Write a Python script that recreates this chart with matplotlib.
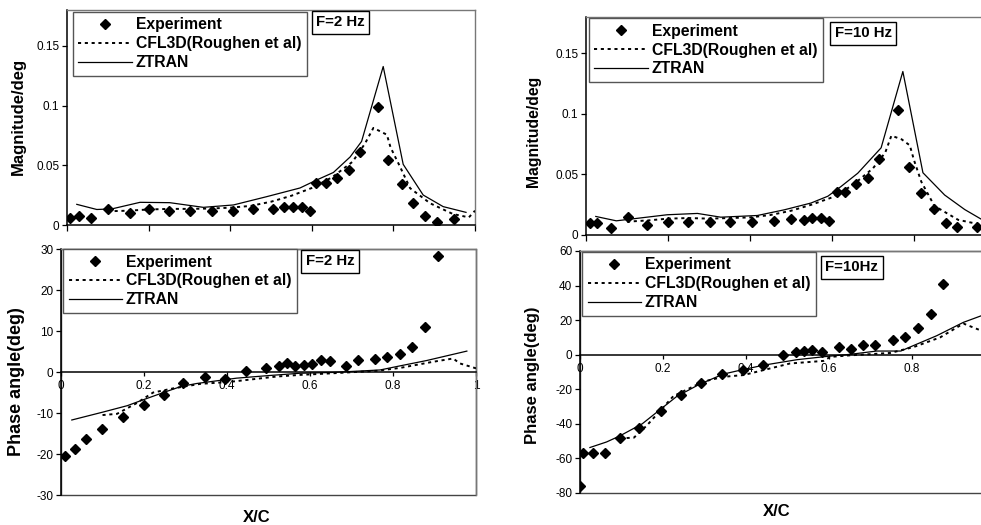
import numpy as np
import matplotlib
matplotlib.use('Agg')
import matplotlib.pyplot as plt
from matplotlib.patches import Rectangle

plt.rcParams['font.family'] = ['Liberation Sans', 'DejaVu Sans']

# ---- magnitude, F = 2 Hz ----
mag2_exp_x = [0.008, 0.029, 0.059, 0.10, 0.154, 0.20, 0.251, 0.301, 0.355, 0.406, 0.455, 0.506, 0.533, 0.555,
              0.575, 0.596, 0.61, 0.634, 0.661, 0.692, 0.718, 0.763, 0.786, 0.82, 0.849, 0.877, 0.908, 0.949]
mag2_exp_y = [0.0056, 0.0078, 0.0056, 0.013, 0.0103, 0.013, 0.0117, 0.012, 0.012, 0.012, 0.013, 0.013, 0.0148, 0.0148,
              0.0148, 0.012, 0.035, 0.035, 0.039, 0.046, 0.0615, 0.099, 0.0545, 0.034, 0.0187, 0.0075, 0.0028, 0.0047]
mag2_cfl_x = [0.10, 0.15, 0.2, 0.25, 0.3, 0.35, 0.4, 0.45, 0.5, 0.55, 0.6, 0.65, 0.7, 0.73, 0.751, 0.784, 0.793,
              0.816, 0.841, 0.89, 0.946, 0.985, 1.0]
mag2_cfl_y = [0.0115, 0.012, 0.013, 0.0135, 0.0135, 0.0138, 0.0145, 0.016, 0.0195, 0.0245, 0.031, 0.040, 0.053,
              0.068, 0.0813, 0.0756, 0.065, 0.049, 0.0308, 0.0182, 0.0092, 0.0064, 0.012]
mag2_zt_x = [0.024, 0.073, 0.11, 0.179, 0.252, 0.334, 0.408, 0.489, 0.571, 0.612, 0.653, 0.694, 0.722, 0.775,
             0.824, 0.873, 0.922, 0.978]
mag2_zt_y = [0.0173, 0.013, 0.0135, 0.019, 0.0187, 0.0148, 0.0168, 0.0237, 0.031, 0.0377, 0.044, 0.057, 0.070,
             0.1327, 0.0508, 0.0251, 0.0154, 0.0106]

# ---- phase, F = 2 Hz ----
ph2_exp_x = [0.0096, 0.034, 0.061, 0.099, 0.150, 0.2, 0.249, 0.295, 0.347, 0.396, 0.445, 0.494, 0.526, 0.545,
             0.565, 0.586, 0.606, 0.627, 0.648, 0.687, 0.716, 0.756, 0.786, 0.817, 0.847, 0.878, 0.909]
ph2_exp_y = [-20.5, -18.7, -16.4, -14.0, -10.9, -8.0, -5.6, -2.8, -1.1, -1.7, 0.2, 1.1, 1.5, 2.1,
             1.5, 1.8, 2.0, 2.9, 2.6, 1.5, 2.9, 3.2, 3.7, 4.4, 6.1, 11.1, 28.3]
ph2_cfl_x = [0.10, 0.135, 0.182, 0.222, 0.27, 0.335, 0.407, 0.52, 0.576, 0.656, 0.761, 0.817, 0.897, 0.945,
             0.961, 1.0]
ph2_cfl_y = [-10.5, -10.2, -7.6, -5.0, -4.0, -2.9, -2.4, -1.1, -0.7, -0.3, 0.3, 1.0, 2.5, 3.3, 2.1, 0.9]
ph2_zt_x = [0.026, 0.1, 0.16, 0.2, 0.247, 0.29, 0.327, 0.423, 0.496, 0.576, 0.656, 0.769, 0.817, 0.881, 0.978]
ph2_zt_y = [-11.7, -9.8, -8.2, -6.7, -5.0, -3.5, -2.8, -1.5, -0.9, -0.3, -0.1, 0.5, 1.5, 2.8, 5.1]

# ---- magnitude, F = 10 Hz ----
mag10_exp_x = [0.009, 0.027, 0.061, 0.102, 0.148, 0.2, 0.25, 0.302, 0.352, 0.404, 0.458, 0.5, 0.533, 0.551,
               0.573, 0.592, 0.612, 0.633, 0.659, 0.689, 0.716, 0.761, 0.788, 0.818, 0.848, 0.878, 0.905, 0.953]
mag10_exp_y = [0.0097, 0.0097, 0.0061, 0.0147, 0.0083, 0.0106, 0.0106, 0.0106, 0.0106, 0.0106, 0.0117, 0.0133,
               0.0122, 0.0142, 0.0142, 0.0114, 0.0356, 0.0356, 0.042, 0.047, 0.0625, 0.1036, 0.0564, 0.0347,
               0.0217, 0.0103, 0.0069, 0.0064]
mag10_cfl_x = [0.10, 0.15, 0.2, 0.25, 0.3, 0.35, 0.4, 0.45, 0.5, 0.55, 0.6, 0.65, 0.7, 0.73, 0.745, 0.77, 0.79,
               0.80, 0.818, 0.85, 0.908, 0.967, 1.0]
mag10_cfl_y = [0.011, 0.012, 0.0135, 0.014, 0.0135, 0.014, 0.0145, 0.0165, 0.020, 0.025, 0.031, 0.041, 0.055,
               0.068, 0.082, 0.079, 0.074, 0.062, 0.044, 0.024, 0.0125, 0.0083, 0.007]
mag10_zt_x = [0.024, 0.074, 0.198, 0.272, 0.329, 0.418, 0.484, 0.549, 0.59, 0.622, 0.663, 0.72, 0.773, 0.822,
              0.875, 0.924, 0.967, 1.0]
mag10_zt_y = [0.0153, 0.0117, 0.0167, 0.0178, 0.0147, 0.0161, 0.0208, 0.0264, 0.032, 0.040, 0.051, 0.072, 0.135,
              0.0514, 0.033, 0.021, 0.0125, 0.008]

# ---- phase, F = 10 Hz ----
ph10_exp_x = [0.0, 0.007, 0.031, 0.06, 0.096, 0.142, 0.195, 0.244, 0.291, 0.343, 0.394, 0.442, 0.49, 0.521,
              0.539, 0.56, 0.584, 0.624, 0.654, 0.682, 0.711, 0.754, 0.784, 0.814, 0.846, 0.874]
ph10_exp_y = [-76, -56.8, -56.8, -56.8, -48, -42.3, -32.4, -23.2, -16.6, -10.9, -9.0, -6.1, 0, 1.3,
              2.1, 2.9, 1.5, 4.2, 3.4, 5.7, 5.7, 8.2, 10.5, 15.4, 23.4, 40.6]
ph10_cfl_x = [0.096, 0.13, 0.161, 0.225, 0.297, 0.346, 0.394, 0.426, 0.506, 0.587, 0.603, 0.65, 0.748, 0.804,
              0.868, 0.924, 0.967, 1.0]
ph10_cfl_y = [-48.4, -48, -41, -24, -15.6, -12.8, -11.8, -9.9, -5.1, -3.6, -1.3, -0.4, 1, 4.4, 10, 18, 13.9, 12]
ph10_zt_x = [0.024, 0.064, 0.096, 0.15, 0.193, 0.233, 0.289, 0.346, 0.386, 0.442, 0.523, 0.595, 0.651, 0.715,
             0.773, 0.804, 0.86, 0.924, 0.967, 1.0]
ph10_zt_y = [-53.7, -50.5, -47, -40, -31.8, -24.2, -17, -11.2, -9.0, -6.1, -2.9, -1, 0.2, 2.1, 2.1, 5.3, 11,
             18.7, 22.5, 25]

x_ticks = [0, 0.2, 0.4, 0.6, 0.8, 1]
x_tick_labels = ['0', '0.2', '0.4', '0.6', '0.8', '1']
x_tick_labels_right = ['0', '0.2', '0.4', '0.6', '0.8', '']   # the last one falls past the page edge
mag_ticks = [0, 0.05, 0.1, 0.15]
mag_tick_labels = ['0', '0.05', '0.1', '0.15']
ph2_ticks = [-30, -20, -10, 0, 10, 20, 30]
ph10_ticks = [-80, -60, -40, -20, 0, 20, 40, 60]

labels = ['Experiment', 'CFL3D(Roughen et al)', 'ZTRAN']


def draw(ax, ex, ey, cx, cy, zx, zy):
    ax.plot(ex, ey, 'D', color='black', ms=4.8, label=labels[0], zorder=4)
    ax.plot(cx, cy, color='black', lw=1.4, linestyle=(0, (1.6, 1.9)), label=labels[1], zorder=3)
    ax.plot(zx, zy, color='black', lw=0.9, label=labels[2], zorder=3)


def frame(ax):
    for s in ['top', 'right']:
        ax.spines[s].set_color('#777777')
        ax.spines[s].set_linewidth(1.0)
    for s in ['left', 'bottom']:
        ax.spines[s].set_color('black')
        ax.spines[s].set_linewidth(1.1)
    ax.tick_params(direction='out', length=3.5, width=0.9, labelsize=8.5, color='black', pad=2)
    ax.set_xlim(0, 1)
    ax.set_xticks(x_ticks)


def legend(ax, anchor):
    lg = ax.legend(loc='upper left', bbox_to_anchor=anchor, borderaxespad=0, fancybox=False,
                   edgecolor='#555555', framealpha=1, prop={'weight': 'bold', 'size': 11.3},
                   handlelength=3.4, handletextpad=0.25, labelspacing=0.25, borderpad=0.35)
    lg.get_frame().set_linewidth(1.0)


def tag(ax, x, y, s):
    ax.text(x, y, s, transform=ax.transAxes, ha='center', va='center', fontsize=10.8, fontweight='bold',
            bbox=dict(boxstyle='square,pad=0.3', fc='white', ec='black', lw=1.0), zorder=6)


fig = plt.figure(figsize=(9.81, 5.25), dpi=100)

# magnitude panels: the x axis sits on the bottom edge, no tick labels
ax1 = fig.add_axes([0.0683, 0.5714, 0.4159, 0.4095])
ax3 = fig.add_axes([0.5973, 0.5524, 0.4179, 0.4152])
for ax, d, tg, pos in [(ax1, (mag2_exp_x, mag2_exp_y, mag2_cfl_x, mag2_cfl_y, mag2_zt_x, mag2_zt_y),
                        'F=2 Hz', (0.67, 0.944)),
                       (ax3, (mag10_exp_x, mag10_exp_y, mag10_cfl_x, mag10_cfl_y, mag10_zt_x, mag10_zt_y),
                        'F=10 Hz', (0.677, 0.925))]:
    draw(ax, *d)
    frame(ax)
    ax.set_ylim(0, 0.18)
    ax.set_yticks(mag_ticks)
    ax.set_yticklabels(mag_tick_labels)
    ax.set_xticklabels([])
    ax.tick_params(axis='x', length=4)
    tag(ax, pos[0], pos[1], tg)

legend(ax1, (0.0147, 0.991))
legend(ax3, (0.007, 0.995))

# phase panels: the x axis crosses at zero, the plot area keeps its border
ax2 = fig.add_axes([0.0622, 0.0571, 0.4230, 0.4686])
ax4 = fig.add_axes([0.5912, 0.0610, 0.4230, 0.4610])
for ax, d, tg, pos, lim, ticks, xl in [
        (ax2, (ph2_exp_x, ph2_exp_y, ph2_cfl_x, ph2_cfl_y, ph2_zt_x, ph2_zt_y), 'F=2 Hz', (0.648, 0.951),
         (-30, 30), ph2_ticks, x_tick_labels),
        (ax4, (ph10_exp_x, ph10_exp_y, ph10_cfl_x, ph10_cfl_y, ph10_zt_x, ph10_zt_y), 'F=10Hz', (0.655, 0.932),
         (-80, 60), ph10_ticks, x_tick_labels_right)]:
    draw(ax, *d)
    frame(ax)
    ax.set_ylim(*lim)
    ax.set_yticks(ticks)
    ax.set_yticklabels([str(t) for t in ticks])
    ax.set_xticklabels(xl)
    ax.spines['bottom'].set_position(('data', 0))
    ax.tick_params(axis='x', length=3, pad=3)
    ax.add_patch(Rectangle((0, 0), 1, 1, transform=ax.transAxes, fill=False, ec='#444444', lw=1.0,
                           clip_on=False, zorder=1))
    tag(ax, pos[0], pos[1], tg)

legend(ax2, (0.005, 1.0))
legend(ax4, (0.005, 0.996))

# axis titles
fig.text(18 / 981, 1 - 116 / 525, 'Magnitude/deg', rotation=90, ha='center', va='center',
         fontsize=12, fontweight='bold')
fig.text(533 / 981, 1 - 131 / 525, 'Magnitude/deg', rotation=90, ha='center', va='center',
         fontsize=11.3, fontweight='bold')
fig.text(17 / 981, 1 - 382 / 525, 'Phase angle(deg)', rotation=90, ha='center', va='center',
         fontsize=13, fontweight='bold')
fig.text(533 / 981, 1 - 375 / 525, 'Phase angle(deg)', rotation=90, ha='center', va='center',
         fontsize=12, fontweight='bold')
fig.text(257 / 981, 1 - 517 / 525, 'X/C', ha='center', va='center', fontsize=12, fontweight='bold')
fig.text(777 / 981, 1 - 512 / 525, 'X/C', ha='center', va='center', fontsize=12, fontweight='bold')

fig.savefig('out.png', dpi=100)
